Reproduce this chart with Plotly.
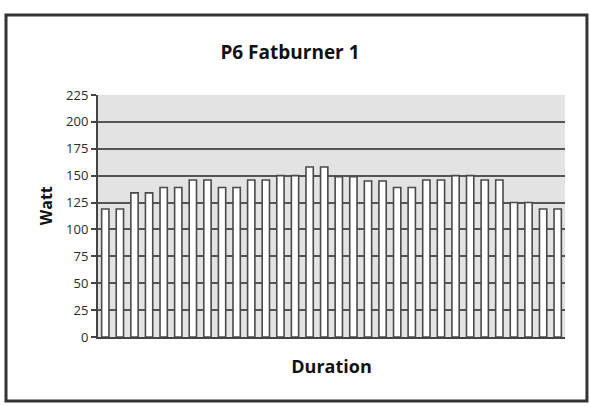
import plotly.graph_objects as go

# one bar per interval of the program
intervals = list(range(1, 33))
watt = [119, 119, 134, 134, 139, 139, 146, 146,
        139, 139, 146, 146, 150, 150, 158, 158,
        149, 149, 145, 145, 139, 139, 146, 146,
        150, 150, 146, 146, 125, 125, 119, 119]
y_ticks = [0, 25, 50, 75, 100, 125, 150, 175, 200, 225]

fig = go.Figure()
fig.add_trace(
    go.Bar(
        x=intervals,
        y=watt,
        marker=dict(color="white", line=dict(color="#4a4a4a", width=1.6)),
        hoverinfo="skip",
    )
)

# outer chart frame
fig.add_shape(
    type="rect", xref="paper", yref="paper",
    x0=-0.197, x1=1.047, y0=-0.264, y1=1.331,
    line=dict(color="#333333", width=3), fillcolor="rgba(0,0,0,0)",
    layer="below",
)

# y title sits a bit above the axis middle, like the original
fig.add_annotation(
    text="<b>Watt</b>", textangle=-90,
    xref="paper", yref="paper", x=-0.111, y=0.541,
    xanchor="center", yanchor="middle", showarrow=False,
    font=dict(family="Open Sans", size=16, color="#111111"),
)

fig.update_layout(
    width=590,
    height=406,
    margin=dict(l=98, r=25, t=95, b=69),
    paper_bgcolor="white",
    plot_bgcolor="#e3e3e3",
    showlegend=False,
    bargap=0.5,
    font=dict(family="Open Sans", size=13, color="#2a2a2a"),
    title=dict(
        text="<b>P6 Fatburner 1</b>",
        x=0.4915, xanchor="center",
        y=0.872, yanchor="middle",
        font=dict(family="Open Sans", size=19, color="#111111"),
    ),
)
fig.update_xaxes(
    range=[0.5, 32.5],
    showticklabels=False,
    showgrid=False,
    showline=True, linecolor="#444444", linewidth=2,
    ticks="",
    title=dict(text="<b>Duration</b>", standoff=22,
               font=dict(family="Open Sans", size=18, color="#111111")),
)
fig.update_yaxes(
    range=[0, 225],
    tickvals=y_ticks,
    ticks="outside", ticklen=5, tickcolor="#444444", tickwidth=1.5,
    showgrid=True, gridcolor="#555555", gridwidth=1.5,
    showline=True, linecolor="#444444", linewidth=2,
    zeroline=False,
)

# drop the default body margin so the 590x406 figure fills the window
fig.write_html(
    "out.html",
    config={"displayModeBar": False},
    post_script="document.body.style.margin = '0';",
)
